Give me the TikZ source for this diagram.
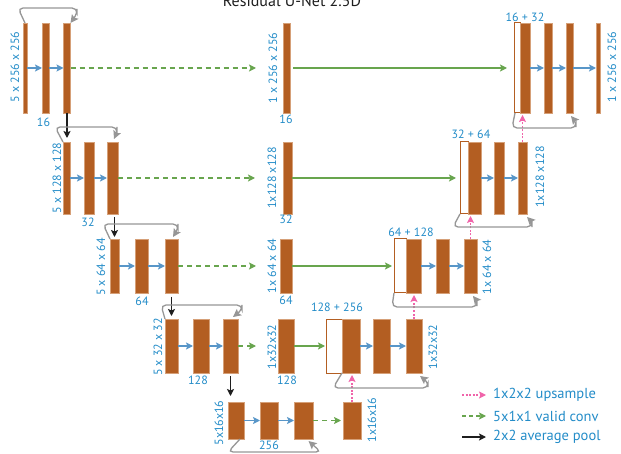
\documentclass[tikz,border=0pt]{standalone}
\usepackage{fontspec}
\setmainfont{PT Sans}
\usetikzlibrary{arrows.meta}
\definecolor{barc}{RGB}{179,94,34}
\definecolor{barline}{RGB}{214,160,120}
\definecolor{labc}{RGB}{35,140,200}
\definecolor{arrc}{RGB}{88,150,200}
\definecolor{grn}{RGB}{104,165,78}
\definecolor{gry}{RGB}{150,150,150}
\definecolor{pnk}{RGB}{240,100,170}
\definecolor{blk}{RGB}{30,30,30}
\newcommand\mybar[6][bar]{%
  \pgfmathsetmacro\bcx{(#3+#4)/2}\pgfmathsetmacro\bcy{(#5+#6)/2}%
  \pgfmathsetmacro\bw{#4-#3}\pgfmathsetmacro\bh{#6-#5}%
  \node[#1, minimum width=\bw pt, minimum height=\bh pt] (#2) at (\bcx,\bcy) {};}
\tikzset{
  bar/.style={draw=barline, fill=barc, line width=0.5pt, inner sep=0pt, outer sep=0pt},
  hollow/.style={draw=barc, fill=white, line width=1pt, inner sep=0pt, outer sep=0pt},
  lab/.style={text=labc, font=\fontsize{12}{12}\selectfont, inner sep=0pt},
  vlab/.style={lab, rotate=90},
  flow/.style={draw=arrc, line width=1.4pt, -{Stealth[length=7pt,width=7pt,inset=1.5pt]}},
  gdash/.style={draw=grn, line width=1.3pt, dash pattern=on 5pt off 4pt, -{Stealth[length=7pt,width=7pt,inset=1.5pt]}},
  gsolid/.style={draw=grn, line width=1.3pt, -{Stealth[length=7pt,width=7pt,inset=1.5pt]}},
  pool/.style={draw=blk, line width=1.3pt, -{Stealth[length=7pt,width=7pt,inset=1.5pt]}},
  ups/.style={draw=pnk, line width=1.3pt, dash pattern=on 2pt off 1.5pt, -{Stealth[length=7pt,width=7pt,inset=1.5pt]}},
  skip/.style={draw=gry, line width=1.3pt, rounded corners=5pt, -{Stealth[length=8pt,width=8pt,inset=1.5pt]}},
  legt/.style={text=labc, font=\fontsize{14.5}{14.5}\selectfont, inner sep=0pt, anchor=west}
}
\begin{document}
\begin{tikzpicture}[x=1pt,y=-1pt]
\useasboundingbox (0,0) rectangle (621,454);
\node[anchor=base, font=\fontsize{16}{16}\selectfont, text=blk, inner sep=0pt] (title) at (292,7) {Residual U-Net 2.5D};
% row 1
\mybar{a1}{23}{27}{23}{113}
\mybar{a2}{42}{49}{23}{113}
\mybar{a3}{63.5}{70.5}{23}{113}
\mybar{am}{283}{290}{23}{113}
\mybar[hollow]{ah}{514}{520}{23}{113}
\mybar{af}{520}{530}{23}{113}
\mybar{ab2}{544}{552}{23}{113}
\mybar{ab3}{566}{573}{23}{113}
\mybar{aout}{596}{600}{23}{113}
% row 2
\mybar{b1}{63}{70}{142}{214}
\mybar{b2}{84}{94}{142}{214}
\mybar{b3}{107}{118}{142}{214}
\mybar{bm}{283}{292}{142}{214}
\mybar[hollow]{bh}{460}{468}{142}{214}
\mybar{bf}{468}{481}{142}{214}
\mybar{bb2}{494}{504}{142}{214}
\mybar{bb3}{518}{527}{142}{214}
% row 3
\mybar{c1}{110}{119}{239}{293}
\mybar{c2}{135}{148}{239}{293}
\mybar{c3}{165}{178}{239}{293}
\mybar{cm}{280}{292}{239}{293}
\mybar[hollow]{ch}{394}{406}{239}{293}
\mybar{cf}{406}{421}{239}{293}
\mybar{cb2}{436}{449}{239}{293}
\mybar{cb3}{464}{477}{239}{293}
% row 4
\mybar{d1}{165}{178}{319}{373}
\mybar{d2}{193}{209}{319}{373}
\mybar{d3}{223}{238}{319}{373}
\mybar{dm}{278}{294}{319}{373}
\mybar[hollow]{dh}{326}{342}{319}{373}
\mybar{df}{342}{360}{319}{373}
\mybar{db2}{373}{390}{319}{373}
\mybar{db3}{406}{422}{319}{373}
% row 5
\mybar{e1}{228}{244}{402}{439}
\mybar{e2}{260}{278}{402}{439}
\mybar{e3}{294}{313}{402}{439}
\mybar{em}{343}{361}{402}{439}
% labels
\node[vlab] (la1) at (15,67) {5 x 256 x 256};
\node[lab] (la2) at (43.5,122) {16};
\node[vlab] (la3) at (273,68) {1 x 256 x 256};
\node[lab] (la4) at (286,119) {16};
\node[lab] (la5) at (525,17) {16 + 32};
\node[vlab] (la6) at (612,67) {1 x 256 x 256};
\node[vlab] (lb1) at (57,178) {5 x 128 x 128};
\node[lab] (lb2) at (88,222) {32};
\node[vlab] (lb3) at (272,178) {1x128 x128};
\node[lab] (lb4) at (286,219) {32};
\node[lab] (lb5) at (471,134) {32 + 64};
\node[vlab] (lb6) at (540,177) {1x128 x128};
\node[vlab] (lc1) at (101,267) {5 x 64 x 64};
\node[lab] (lc2) at (142,301) {64};
\node[vlab] (lc3) at (272,266) {1x 64 x 64};
\node[lab] (lc4) at (286,300) {64};
\node[lab] (lc5) at (411,232) {64 + 128};
\node[vlab] (lc6) at (487,267) {1x 64 x 64};
\node[vlab] (ld1) at (158,347) {5 x 32 x 32};
\node[lab] (ld2) at (198,380) {128};
\node[vlab] (ld3) at (272,347) {1x32x32};
\node[lab] (ld4) at (287,380) {128};
\node[lab] (ld5) at (337,307) {128 + 256};
\node[vlab] (ld6) at (433,347) {1x32x32};
\node[vlab] (le1) at (219,423) {5x16x16};
\node[lab] (le2) at (269,445) {256};
\node[vlab] (le3) at (372,420) {1x16x16};
% blue flow arrows
\foreach \s/\t in {a1/a2,a2/a3,af/ab2,ab2/ab3,ab3/aout,b1/b2,b2/b3,bf/bb2,bb2/bb3,c1/c2,c2/c3,cf/cb2,cb2/cb3,d1/d2,d2/d3,df/db2,db2/db3,e1/e2,e2/e3}
  \draw[flow] (\s.east) -- (\t.west);
% green dashed
\draw[gdash] (a3.east) -- ([xshift=-27pt]am.west);
\draw[gdash] (b3.east) -- ([xshift=-28pt]bm.west);
\draw[gdash] (c3.east) -- ([xshift=-24pt]cm.west);
\draw[gdash] (d3.east) -- ([xshift=-22pt]dm.west);
\draw[gdash, shorten >=2pt] (e3.east) -- (em.west);
% green solid
\draw[gsolid, shorten <=3pt, shorten >=7pt] (am.east) -- (ah.west);
\draw[gsolid, shorten >=4pt] (bm.east) -- (bh.west);
\draw[gsolid, shorten >=2pt] (cm.east) -- (ch.west);
\draw[gsolid, shorten >=1pt] (dm.east) -- (dh.west);
% pooling
\draw[pool, shorten >=4pt] (a3.south) -- (a3.south |- b1.north);
\draw[pool, shorten <=3pt, shorten >=2pt] (c1.north |- b3.south) -- (c1.north);
\draw[pool, shorten <=4pt, shorten >=3pt] (c3.south) -- (c3.south |- d1.north);
\draw[pool, shorten <=3pt, shorten >=6pt] (d3.south) -- (d3.south |- e1.north);
% upsampling
\draw[ups, shorten >=2pt] (bb3.north) -- (bb3.north |- af.south);
\draw[ups, shorten >=2pt] (cb3.north) -- (cb3.north |- bf.south);
\draw[ups, shorten >=2pt] (db3.north) -- (db3.north |- cf.south);
\draw[ups, shorten >=2pt] (em.north) -- (em.north |- df.south);
% residual skips
\draw[skip] (a1.north) -- (18,8) -- (77,8) -- (77,14) -- (a3.north east);
\draw[skip] (b1.north west) -- (55,127) -- (117,127) -- (117,132) -- ([shift={(-4,-3)}]b3.north east);
\draw[skip] (c1.north west) -- (103,224) -- (178,224) -- (178,229) -- ([shift={(-5,-2)}]c3.north east);
\draw[skip] (d1.north west) -- (161,305) -- (242,305) -- (242,310) -- ([shift={(-5,-2)}]d3.north east);
\draw[skip] ([xshift=-4pt]e1.south east) -- (228,452) -- (321,452) -- ([shift={(5,2)}]e3.south);
\draw[skip] ([xshift=1pt]ah.south west) -- (512,128) -- (576,128) -- (576,122) -- ([shift={(-2,3)}]ab3.south east);
\draw[skip] (bh.south west) -- (453,227) -- (532,227) -- (532,222) -- ([shift={(0,3)}]bb3.south east);
\draw[skip] (ch.south west) -- (392,307) -- (477,307) -- (477,301) -- ([shift={(-4,3)}]cb3.south east);
\draw[skip] (dh.south east) -- (333,388) -- (428,388) -- (428,382) -- ([shift={(-2,3)}]db3.south east);
% legend
\coordinate (k1a) at (462,395); \coordinate (k1b) at (486,395);
\coordinate (k2a) at (462,416); \coordinate (k2b) at (486,416);
\coordinate (k3a) at (462,437); \coordinate (k3b) at (486,437);
\draw[ups] (k1a) -- (k1b);
\draw[gdash, dash pattern=on 4pt off 3pt] (k2a) -- (k2b);
\draw[pool] (k3a) -- (k3b);
\node[legt] (t1) at (493,395) {1x2x2 upsample};
\node[legt] (t2) at (493,416) {5x1x1 valid conv};
\node[legt] (t3) at (493,437) {2x2 average pool};
\end{tikzpicture}
\end{document}
